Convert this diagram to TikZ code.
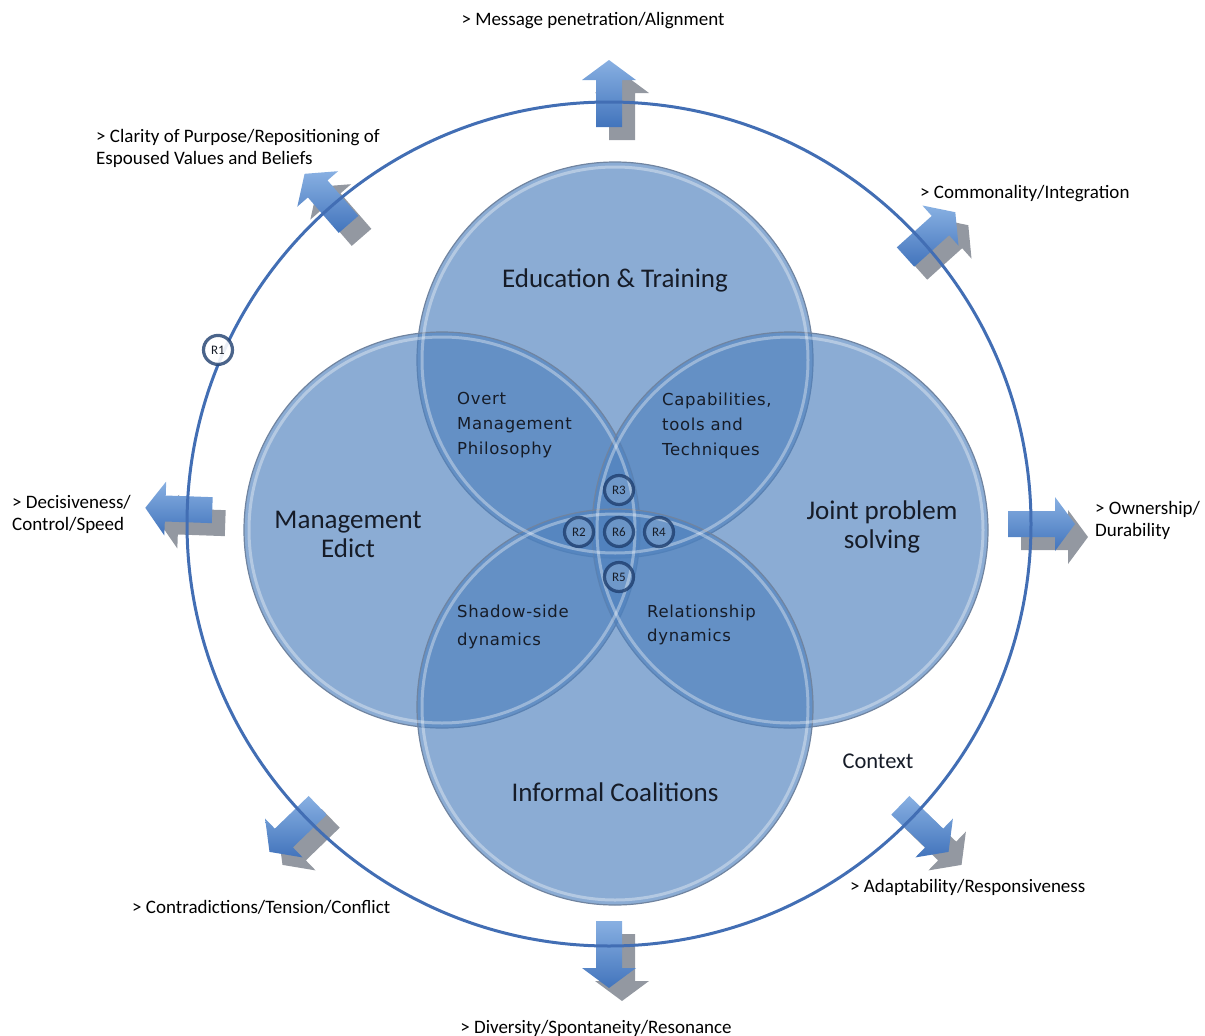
\documentclass[tikz,border=0pt]{standalone}
\usepackage{fontspec}
\usetikzlibrary{calc}
\setmainfont{Carlito}
\newfontfamily\lensfont[LetterSpace=4]{DejaVu Sans}

\definecolor{venn}{RGB}{79,129,189}
\definecolor{vennrim}{RGB}{112,132,160}
\definecolor{ring}{RGB}{66,110,180}
\definecolor{arrowtop}{RGB}{136,176,226}
\definecolor{arrowbot}{RGB}{66,116,188}
\definecolor{arrowshade}{RGB}{128,134,144}
\definecolor{rmark}{RGB}{30,62,110}
\definecolor{inktext}{RGB}{22,28,40}

\tikzset{
  venn/.style={fill=venn, fill opacity=0.66, draw=vennrim, line width=1.2},
  glint/.style={draw=white, draw opacity=0.35, line width=3},
  title/.style={font=\fontsize{27}{29}\selectfont, text=inktext, align=center},
  lens/.style={font=\lensfont\fontsize{16.5}{25}\selectfont, text=inktext, align=left, anchor=north west, inner sep=0},
  effect/.style={font=\fontsize{19}{22}\selectfont, text=black, align=left, inner sep=0},
  rnode/.style={circle, draw=rmark, draw opacity=0.8, line width=3.2, fill=white, fill opacity=0.15, text opacity=1, text=inktext, minimum size=29, inner sep=0, font=\fontsize{13}{13}\selectfont},
}
% block arrow pointing along +x, ring line at x=0
\newcommand\blockarrow{(-25,-13) -- (22,-13) -- (22,-27) -- (42,0) -- (22,27) -- (22,13) -- (-25,13) -- cycle}

\begin{document}
\begin{tikzpicture}[x=1pt,y=1pt,yscale=-1]
\useasboundingbox (0,0) rectangle (1205,1036);

% arrow shadows, then arrows
\foreach \a/\r in {-90/422,-42/424,0/424,44/430,90/422,136/430,182/422,-131/422}{
  \fill[arrowshade, fill opacity=0.85, shift={(13,13)}, shift={(609,524)}, shift={(\a:\r)}, rotate=\a] \blockarrow;
}
\foreach \a/\r in {-90/422,-42/424,0/424,44/430,90/422,136/430,182/422,-131/422}{
  \shade[top color=arrowtop, bottom color=arrowbot, shift={(609,524)}, shift={(\a:\r)}, rotate=\a] \blockarrow;
}

% context ring
\draw[ring, line width=3] (609,524) circle (422);

% four overlapping circles
\draw[venn] (615,360) circle (198);
\draw[venn] (442,530) circle (198);
\draw[venn] (790,530) circle (198);
\draw[venn] (615,707) circle (198);
\foreach \c in {(615,360),(442,530),(790,530),(615,707)}
  \draw[glint] \c circle (193);

% circle titles
\node[title] (edu) at (615,280) {Education \& Training};
\node[title] (edict) at (348,534) {Management\\Edict};
\node[title] (joint) at (882,527) {Joint problem\\solving};
\node[title] (coal) at (615,792) {Informal Coalitions};
\node[title, font=\fontsize{22.5}{26}\selectfont] (ctx) at (878,761) {Context};

% overlap labels
\node[lens] (overt) at (457,392) {Overt\\Management\\Philosophy};
\node[lens] (caps) at (662,393) {Capabilities,\\tools and\\Techniques};
\node[lens, font=\lensfont\fontsize{16.5}{28}\selectfont] (shadow) at (457,605) {Shadow-side\\dynamics};
\node[lens, font=\lensfont\fontsize{16.5}{24}\selectfont] (rel) at (647,605) {Relationship\\dynamics};

% markers
\node[rnode, fill opacity=0.9] (r1) at ($(609,524)+(204:428)$) {R1};
\node[rnode] (r3) at (619,490) {R3};
\node[rnode] (r2) at (579,532) {R2};
\node[rnode] (r6) at (619,532) {R6};
\node[rnode] (r4) at (659,532) {R4};
\node[rnode] (r5) at (619,577) {R5};

% effects
\node[effect] (msg) at (593,21) {> Message penetration/Alignment};
\node[effect, anchor=north west] (clarity) at (96,129) {> Clarity of Purpose/Repositioning of\\Espoused Values and Beliefs};
\node[effect, anchor=west] (common) at (920,194) {> Commonality/Integration};
\node[effect, anchor=north west] (decis) at (12,495) {> Decisiveness/\\Control/Speed};
\node[effect, anchor=north west] (owner) at (1095,501) {> Ownership/\\Durability};
\node[effect, anchor=west] (adapt) at (850,887) {> Adaptability/Responsiveness};
\node[effect, anchor=west] (contra) at (132,907) {> Contradictions/Tension/Conflict};
\node[effect] (divers) at (596,1028) {> Diversity/Spontaneity/Resonance};
\end{tikzpicture}
\end{document}
